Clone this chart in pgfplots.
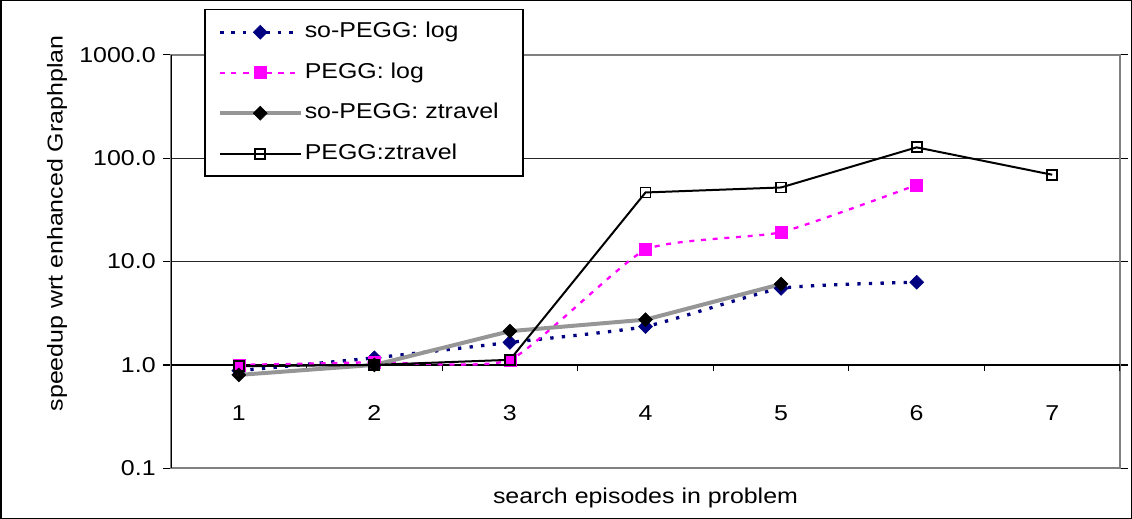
\documentclass[border=0pt]{standalone}
\usepackage{pgfplots}
\pgfplotsset{compat=1.18}
\usepackage{fontspec}
\setmainfont{Liberation Sans}[FakeStretch=1.16]
\definecolor{navyc}{HTML}{000080}
\definecolor{magc}{HTML}{FF00FF}
\definecolor{grayl}{HTML}{969696}
\definecolor{bordc}{HTML}{808080}
\newcommand{\chfont}{\fontsize{21.5bp}{25bp}\selectfont}
\begin{document}
\chfont
\begin{tikzpicture}
\useasboundingbox (0,0) rectangle (1132bp,519bp);
\draw[black, line width=1.5bp] (0.75bp,0.75bp) rectangle (1131.25bp,518.25bp);
\begin{axis}[
  at={(171bp,50.7bp)}, anchor=south west,
  scale only axis, width=949bp, height=413.6bp,
  ymode=log, ymin=0.1, ymax=1000, xmin=0.5, xmax=7.5,
  ytick={0.1,1,10,100,1000}, yticklabels={0.1,1.0,10.0,100.0,1000.0},
  yminorticks=false,
  xtick={1,2,3,4,5,6,7}, xticklabels={1,2,3,4,5,6,7},
  xtick style={draw=none},
  ytick style={black, line width=1.2bp},
  tick align=outside, major tick length=8bp,
  ymajorgrids, grid style={black!85, line width=1.2bp},
  axis line style={bordc, line width=1.8bp},
  xticklabel style={anchor=center, yshift=63.3bp},
  yticklabel style={anchor=east},
  tick label style={font=\chfont},
  label style={font=\chfont},
  xlabel={search episodes in problem},
  ylabel={speedup wrt enhanced Graphplan},
  xlabel style={at={(axis description cs:0.5,-0.0718)}, anchor=center},
  ylabel style={at={(axis description cs:-0.120,0.592)}, anchor=center},
  legend style={at={(axis description cs:0.0348,1.1105)}, anchor=north west,
    draw=black, line width=1.5bp, font=\chfont, row sep=16.5bp,
    inner xsep=13bp, inner ysep=10.5bp,
    nodes={text height=15.5bp, text depth=4.5bp}},
  legend cell align=left,
  legend image code/.code={\draw[mark repeat=2,mark phase=2,#1] plot coordinates {(0bp,0bp) (40.5bp,0bp) (81bp,0bp)};},
]
\draw[black, line width=1.2bp] (axis cs:0.5,1) -- (axis cs:7.5,1);
\pgfplotsinvokeforeach{0.5,1.5,2.5,3.5,4.5,5.5,6.5,7.5}{\draw[black,line width=1.2bp] (axis cs:#1,1) -- ([yshift=-6bp]axis cs:#1,1);}
\draw[black, line width=1.5bp] (rel axis cs:0,0) -- (rel axis cs:0,1);

\addplot[navyc, line width=3.3bp, dash pattern=on 3.3bp off 8.3bp, smooth, tension=0.3,
  mark=diamond*, mark size=7bp, mark options={solid, fill=navyc, draw=navyc, line width=0.5bp, xscale=1.333}]
  coordinates {(1,0.88) (2,1.17) (3,1.65) (4,2.35) (5,5.5) (6,6.3)};
\addlegendentry{so-PEGG: log}
\addplot[magc, line width=2.3bp, dash pattern=on 5bp off 6.7bp, smooth, tension=0.3,
  mark=square*, mark size=6bp, mark options={solid, fill=magc, draw=magc, line width=0.5bp}]
  coordinates {(1,1.0) (2,1.06) (3,1.12) (4,13.0) (5,19.2) (6,55)};
\addlegendentry{PEGG: log}
\addplot[grayl, line width=4bp,
  mark=diamond*, mark size=7bp, mark options={solid, fill=black, draw=black, line width=0.5bp, xscale=1.333}]
  coordinates {(1,0.8) (2,1.0) (3,2.12) (4,2.74) (5,6.05)};
\addlegendentry{so-PEGG: ztravel\hspace*{9bp}}
\addplot[black, line width=2bp,
  mark=square, mark size=5bp, mark options={solid, draw=black, line width=1.8bp}]
  coordinates {(1,0.97) (2,1.0) (3,1.12) (4,46.5) (5,52) (6,127) (7,69)};
\addlegendentry{PEGG:ztravel}
\end{axis}
\end{tikzpicture}
\end{document}
